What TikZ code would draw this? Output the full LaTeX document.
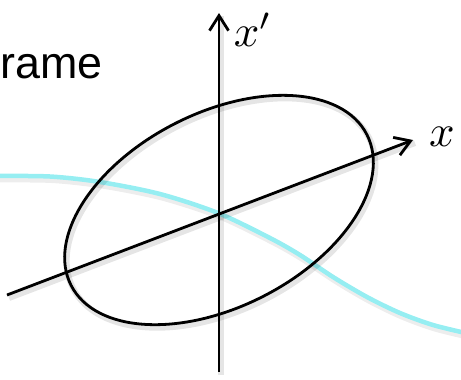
\documentclass[tikz,border=0pt]{standalone}
\usepackage{fontspec}
\setmainfont{Liberation Sans}
\usetikzlibrary{arrows.meta}
\definecolor{wave}{RGB}{150,238,242}
\tikzset{
  axis/.style={draw=black, line width=2.8bp, -{Straight Barb[length=15bp, width=19bp, line width=2.8bp]}},
  curve/.style={draw=black, line width=2.8bp},
  shadowline/.style={draw=black, draw opacity=0.10, line width=6bp, transform canvas={shift={(2bp,-3bp)}}},
  lbl/.style={inner sep=0pt, font=\fontsize{10}{12}\selectfont, scale=4.5},
  title/.style={inner sep=0pt, anchor=base west, font=\fontsize{45}{50}\selectfont}
}
\begin{document}
\begin{tikzpicture}[x=1bp, y=-1bp]
\useasboundingbox (0,0) rectangle (461,379);
\clip (0,0) rectangle (461,379);
\coordinate (O) at (219,213);
\coordinate (E) at (219,210);
\coordinate (yb) at (219,372);
\coordinate (yt) at (219,13);
\coordinate (xl) at (7,295);
\coordinate (xr) at (413,140);
\node[title] (t) at (0,78) {rame};
% wave
\draw[shadowline, line width=7bp, draw opacity=0.07] plot[smooth] coordinates {(-5,176) (50,176.5) (100,182) (160,194) (218,213) (270,238) (300,255) (333,277) (367,297) (400,313) (433,325) (470,334)};
\draw[draw=wave, line width=4.5bp] plot[smooth] coordinates {(-5,176) (50,176.5) (100,182) (160,194) (218,213) (270,238) (300,255) (333,277) (367,297) (400,313) (433,325) (470,334)};
% shadows
\draw[shadowline] (yb) -- (yt);
\draw[shadowline] (xl) -- (xr);
\draw[shadowline, rotate around={27:(E)}] (E) ellipse [x radius=166, y radius=97];
% black
\draw[curve, rotate around={27:(E)}] (E) ellipse [x radius=166, y radius=97];
\draw[axis] (yb) -- (yt);
\draw[axis] (xl) -- (xr);
\node[lbl] (xp) at (253,30) {$x'$};
\node[lbl] (xx) at (442,137) {$x$};
\end{tikzpicture}
\end{document}
